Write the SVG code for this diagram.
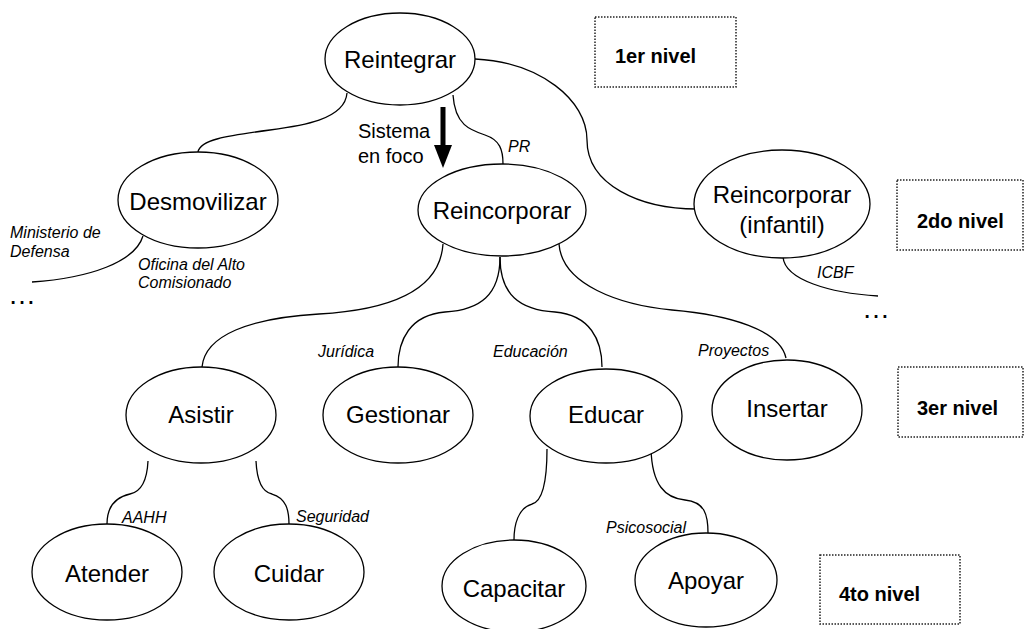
<svg xmlns="http://www.w3.org/2000/svg" width="1026" height="629" viewBox="0 0 1026 629">
<style>
.n ellipse{fill:#fff;stroke:#000;stroke-width:1.3}
.n text{font-family:"Liberation Sans",Arial,sans-serif;font-size:24px;text-anchor:middle;fill:#000}
.c path{fill:none;stroke:#000;stroke-width:1.3}
.l{font-family:"Liberation Sans",Arial,sans-serif;font-size:16px;font-style:italic;fill:#000}
.lv rect{fill:none;stroke:#222;stroke-width:1.5;stroke-dasharray:1.5 1.5}
.lv text{font-family:"Liberation Sans",Arial,sans-serif;font-size:20px;font-weight:bold;fill:#000}
.s{font-family:"Liberation Sans",Arial,sans-serif;font-size:20px;fill:#000}
.d{font-family:"Liberation Sans",Arial,sans-serif;font-size:28px;fill:#000}
</style>
<g id="connectors" class="c">
<path d="M347,93 C345,120 300,126 270,130 C225,136 200,140 198,152"/>
<path d="M453,95 C455,125 470,130 485,135 C500,140 503,150 503,164"/>
<path d="M475,59 C540,62 587,100 587,140 C587,185 640,209 697,209"/>
<path d="M143,236 C135,262 90,278 32,282"/>
<path d="M783,257 C785,280 830,293 878,296"/>
<path d="M443,244 C440,290 390,310 319,314 C250,318 205,335 202,367"/>
<path d="M500,257 C500,295 480,310 445,312 C410,315 398,340 398,367"/>
<path d="M500,257 C500,295 520,310 555,312 C590,315 602,340 602,367"/>
<path d="M559,244 C562,285 620,305 672,310 C730,315 780,330 786,358"/>
<path d="M148,461 C147,482 140,492 130,494 C112,498 107,510 107,524"/>
<path d="M256,461 C257,482 262,492 272,494 C286,498 289,510 289,524"/>
<path d="M547,449 C547,490 540,502 532,504 C518,508 514,525 514,540"/>
<path d="M651,449 C652,485 665,498 685,500 C705,502 708,515 708,533"/>
</g>
<g id="arrow">
<line x1="443" y1="107" x2="443" y2="148" stroke="#000" stroke-width="5"/>
<polygon points="434,145 452,145 443,168" fill="#000"/>
</g>
<g id="n-reintegrar" class="n"><ellipse cx="400" cy="59" rx="75" ry="46"/><text x="400" y="68">Reintegrar</text></g>
<g id="n-desmovilizar" class="n"><ellipse cx="198" cy="200" rx="80" ry="48"/><text x="198" y="210">Desmovilizar</text></g>
<g id="n-reincorporar" class="n"><ellipse cx="502" cy="210" rx="84" ry="46"/><text x="502" y="219">Reincorporar</text></g>
<g id="n-infantil" class="n"><ellipse cx="782" cy="204" rx="88" ry="54"/><text x="782" y="203">Reincorporar</text><text x="782" y="233">(infantil)</text></g>
<g id="n-asistir" class="n"><ellipse cx="201" cy="415" rx="75" ry="48"/><text x="201" y="423">Asistir</text></g>
<g id="n-gestionar" class="n"><ellipse cx="398" cy="415" rx="75" ry="48"/><text x="398" y="423">Gestionar</text></g>
<g id="n-educar" class="n"><ellipse cx="606" cy="416" rx="76" ry="47"/><text x="606" y="423">Educar</text></g>
<g id="n-insertar" class="n"><ellipse cx="787" cy="410" rx="75" ry="50"/><text x="787" y="417">Insertar</text></g>
<g id="n-atender" class="n"><ellipse cx="107" cy="572" rx="75" ry="48"/><text x="107" y="582">Atender</text></g>
<g id="n-cuidar" class="n"><ellipse cx="289" cy="572" rx="75" ry="48"/><text x="289" y="582">Cuidar</text></g>
<g id="n-capacitar" class="n"><ellipse cx="514" cy="586" rx="72" ry="46"/><text x="514" y="597">Capacitar</text></g>
<g id="n-apoyar" class="n"><ellipse cx="706" cy="580" rx="71" ry="47"/><text x="706" y="589">Apoyar</text></g>
<g id="labels">
<text class="s" x="358" y="138">Sistema</text>
<text class="s" x="358" y="163">en foco</text>
<text class="l" x="508" y="152">PR</text>
<text class="l" x="10" y="238">Ministerio de</text>
<text class="l" x="10" y="257">Defensa</text>
<text class="l" x="138" y="270">Oficina del Alto</text>
<text class="l" x="138" y="288">Comisionado</text>
<text class="d" x="8" y="304">…</text>
<text class="d" x="862" y="318">…</text>
<text class="l" x="817" y="278">ICBF</text>
<text class="l" x="318" y="357">Jurídica</text>
<text class="l" x="493" y="357">Educación</text>
<text class="l" x="698" y="356">Proyectos</text>
<text class="l" x="122" y="523">AAHH</text>
<text class="l" x="296" y="522">Seguridad</text>
<text class="l" x="606" y="533">Psicosocial</text>
</g>
<g id="level1" class="lv"><rect x="595" y="17" width="141" height="70"/><text x="615" y="63">1er nivel</text></g>
<g id="level2" class="lv"><rect x="897" y="180" width="126" height="70"/><text x="917" y="228">2do nivel</text></g>
<g id="level3" class="lv"><rect x="898" y="367" width="125" height="70"/><text x="917" y="415">3er nivel</text></g>
<g id="level4" class="lv"><rect x="820" y="555" width="140" height="69"/><text x="839" y="601">4to nivel</text></g>
</svg>
